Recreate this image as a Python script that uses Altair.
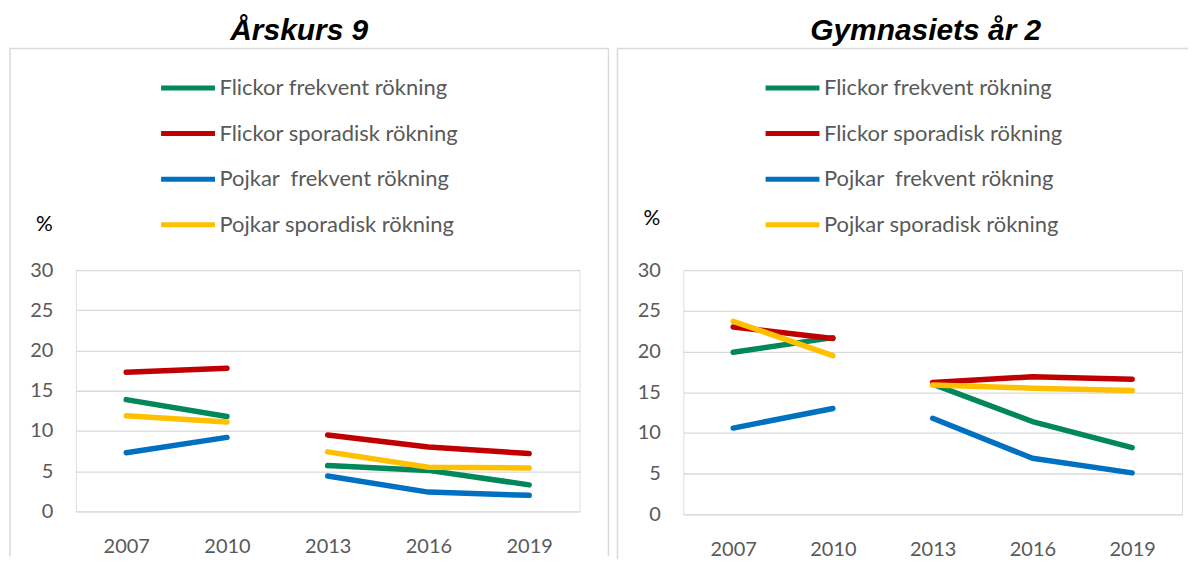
import altair as alt
import pandas as pd

years = ["2007", "2010", "2013", "2016", "2019"]
periods = ["a", "a", "b", "b", "b"]
series = [
    "Flickor frekvent rökning",
    "Flickor sporadisk rökning",
    "Pojkar\u00a0 frekvent rökning",
    "Pojkar sporadisk rökning",
]
colors = ["#00875A", "#C00000", "#0070C0", "#FFC000"]

# Årskurs 9
ak9_flickor_frekvent = [13.9, 11.8, 5.7, 5.1, 3.3]
ak9_flickor_sporadisk = [17.3, 17.8, 9.5, 8.0, 7.2]
ak9_pojkar_frekvent = [7.3, 9.2, 4.4, 2.4, 2.0]
ak9_pojkar_sporadisk = [11.9, 11.1, 7.4, 5.5, 5.4]

# Gymnasiets år 2
gy2_flickor_frekvent = [19.9, 21.7, 16.0, 11.4, 8.2]
gy2_flickor_sporadisk = [23.0, 21.6, 16.2, 16.9, 16.6]
gy2_pojkar_frekvent = [10.6, 13.0, 11.8, 6.9, 5.1]
gy2_pojkar_sporadisk = [23.7, 19.5, 15.9, 15.5, 15.2]

y_ticks = [0, 5, 10, 15, 20, 25, 30]


def long_df(vals):
    rows = []
    for s, v in zip(series, vals):
        for yr, p, val in zip(years, periods, v):
            rows.append({"series": s, "year": yr, "period": p, "value": val})
    return pd.DataFrame(rows)


df9 = long_df([ak9_flickor_frekvent, ak9_flickor_sporadisk, ak9_pojkar_frekvent, ak9_pojkar_sporadisk])
dfg = long_df([gy2_flickor_frekvent, gy2_flickor_sporadisk, gy2_pojkar_frekvent, gy2_pojkar_sporadisk])

GRAY = "#595959"
BOX = "#d9d9d9"
FONT = "Lato"


def panel(df, title, w, h, title_dx, pct_y, box_right, legend_x, right_edge=True):
    lines = alt.Chart(df).mark_line(strokeWidth=5.5, strokeCap="round", strokeJoin="round").encode(
        x=alt.X("year:O", sort=years, scale=alt.Scale(domain=years, padding=0.5),
                axis=alt.Axis(title=None, labelAngle=0, labelFontSize=20, labelFont=FONT,
                              labelColor=GRAY, domain=False, ticks=False, tickSize=0,
                              labelPadding=25, grid=False)),
        y=alt.Y("value:Q", scale=alt.Scale(domain=[0, 30], nice=False),
                axis=alt.Axis(values=y_ticks, grid=True, gridColor=BOX, gridWidth=1.3,
                              domain=False, ticks=False, tickSize=0, labelFontSize=20,
                              labelFont=FONT, labelColor=GRAY, labelPadding=23,
                              title="%", titleAngle=0, titleX=-32, titleY=pct_y,
                              titleFontSize=21, titleFontWeight="normal", titleColor="black",
                              titleFont=FONT, titleAlign="center", titleBaseline="middle")),
        color=alt.Color("series:N", sort=series,
                        scale=alt.Scale(domain=series, range=colors),
                        legend=alt.Legend(orient="none", legendX=legend_x,
                                          legendY=-212, title=None,
                                          symbolType="stroke", symbolSize=2916,
                                          symbolStrokeWidth=5, labelFontSize=22,
                                          labelFont=FONT, labelColor=GRAY, labelOffset=2,
                                          labelLimit=0, rowPadding=4.7, direction="vertical")),
        detail="period:N",
        order=alt.Order("year:O"),
    )
    one = pd.DataFrame({"k": [0]})
    rule = alt.Chart(one).mark_rule(color=BOX, strokeWidth=1.5)
    layers = [
        rule.encode(x=alt.value(-66), y=alt.value(-222), y2=alt.value(h + 45)),
        rule.encode(x=alt.value(-66), x2=alt.value(box_right), y=alt.value(-222)),
    ]
    if right_edge:
        layers.append(rule.encode(x=alt.value(box_right), y=alt.value(-222), y2=alt.value(h + 45)))
    layers.append(lines)
    return alt.layer(*layers).properties(
        width=w, height=h,
        title=alt.TitleParams(title, font="Liberation Sans", fontSize=30, fontWeight="bold",
                              fontStyle="italic", color="black", anchor="middle",
                              frame="group", dx=title_dx, offset=2),
    )


left = panel(df9, "Årskurs 9", 505, 242, -28.5, -46, 534, 83, True)
right = panel(dfg, "Gymnasiets år 2", 500, 245, -7, -52, 506, 80, False)

chart = alt.hconcat(left, right, spacing=5).resolve_scale(color="independent").properties(
    padding={"left": 0, "top": 6, "right": 0, "bottom": 0}
).configure_view(stroke=None).configure(background="white")

chart.save("out.html", embed_options={"renderer": "svg", "actions": False})
